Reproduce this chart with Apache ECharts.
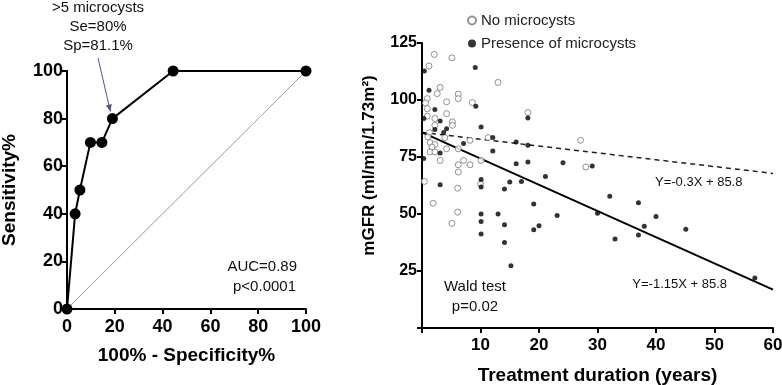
<!DOCTYPE html>
<html>
<head>
<meta charset="utf-8">
<script src="https://cdn.jsdelivr.net/npm/echarts@6/dist/echarts.min.js"></script>
<style>
  html, body { margin: 0; padding: 0; background: #fff; }
  #main { width: 782px; height: 385px; }
</style>
</head>
<body>
<div id="main"></div>
<script>
// ROC curve (100% - specificity, sensitivity)
var rocPoints = [[0, 0], [3.4, 40], [5.4, 50], [9.8, 70], [14.6, 70], [19, 80], [44.4, 100], [100, 100]];
var refDiagonal = [[0, 0], [100, 100]];

// mGFR vs treatment duration
var noMicrocysts = [
  [2.1, 120.0], [5.1, 118.5], [1.2, 114.9], [13.0, 107.7], [3.1, 105.5], [2.6, 102.8],
  [6.2, 102.6], [6.2, 100.6], [0.9, 100.6], [0.6, 98.7], [4.2, 99.2], [8.6, 98.9],
  [0.9, 96.2], [4.2, 94.0], [0.9, 92.9], [2.2, 91.9], [5.2, 90.4], [5.2, 88.9],
  [2.2, 88.9], [18.1, 94.5], [1.3, 85.7], [1.0, 83.8], [3.9, 83.5], [8.2, 82.3],
  [11.3, 83.5], [1.4, 81.3], [2.2, 80.5], [1.7, 79.4], [4.2, 78.6], [6.2, 78.6],
  [1.4, 77.2], [2.2, 77.2], [10.1, 73.5], [3.1, 73.5], [6.2, 71.6], [7.1, 73.5],
  [8.2, 71.6], [6.2, 68.4], [0.4, 64.3], [10.0, 63.2], [6.1, 61.3], [1.9, 54.7],
  [6.1, 50.8], [5.1, 45.9], [27.1, 82.3], [28.0, 70.6]
];
var withMicrocysts = [
  [0.4, 112.7], [9.1, 114.3], [1.2, 104.3], [2.2, 95.8], [9.2, 97.3], [0.3, 91.9],
  [3.1, 90.8], [2.2, 87.1], [4.2, 87.4], [3.7, 85.7], [10.1, 88.2], [12.1, 83.5],
  [7.1, 80.9], [3.1, 76.7], [12.1, 77.6], [0.3, 74.3], [16.1, 81.6], [18.1, 80.1],
  [18.1, 92.1], [16.1, 72.0], [18.1, 72.8], [10.1, 65.1], [3.1, 62.8], [10.1, 61.8],
  [14.1, 61.0], [15.0, 64.0], [17.0, 64.3], [21.1, 66.5], [24.1, 72.5], [29.1, 71.0],
  [32.1, 57.8], [10.1, 50.0], [13.0, 50.0], [10.1, 46.7], [14.1, 45.3], [10.1, 41.2],
  [14.1, 37.5], [15.2, 27.3], [19.1, 54.4], [19.1, 43.1], [20.0, 44.9], [23.1, 49.3],
  [30.0, 50.3], [37.0, 54.9], [40.0, 48.9], [38.0, 44.6], [37.0, 40.8], [33.0, 39.0],
  [45.1, 43.3], [56.9, 21.9]
];
// fitted lines, Y=-1.15X+85.8 and Y=-0.3X+85.8
var fitAll = [[0, 85.8], [60, 16.8]];
var fitNone = [[0, 85.8], [60, 67.8]];

var FONT = 'Liberation Sans, Arial, sans-serif';
var chart = echarts.init(document.getElementById('main'));

function axisBase() {
  return {
    axisLine: { show: true, onZero: false, lineStyle: { color: '#000', width: 2 } },
    axisTick: { show: true, inside: false, length: 5, lineStyle: { color: '#000', width: 2 } },
    splitLine: { show: false },
    nameLocation: 'middle',
    nameTextStyle: { fontFamily: FONT, fontWeight: 'bold', color: '#000' }
  };
}

var x0 = axisBase(), y0 = axisBase(), x1 = axisBase(), y1 = axisBase();
Object.assign(x0, { type: 'value', gridIndex: 0, min: 0, max: 100, interval: 20,
  name: '100% - Specificity%', nameGap: 37,
  axisLabel: { fontFamily: FONT, fontWeight: 'bold', fontSize: 18, color: '#000', margin: 9 } });
x0.nameTextStyle.fontSize = 19;
Object.assign(y0, { type: 'value', gridIndex: 0, min: 0, max: 100, interval: 20,
  name: 'Sensitivity%', nameGap: 48,
  axisLabel: { fontFamily: FONT, fontWeight: 'bold', fontSize: 18, color: '#000', margin: 4 } });
y0.nameTextStyle.fontSize = 19;
Object.assign(x1, { type: 'value', gridIndex: 1, min: 0, max: 60, interval: 10,
  name: 'Treatment duration (years)', nameGap: 38,
  axisLabel: { fontFamily: FONT, fontWeight: 'bold', fontSize: 17, color: '#000', margin: 9,
    formatter: function (v) { return v === 0 ? '' : v; } } });
x1.nameTextStyle.fontSize = 19;
Object.assign(y1, { type: 'value', gridIndex: 1, min: 0, max: 125, interval: 25,
  name: 'mGFR (ml/min/1.73m²)', nameGap: 44,
  axisLabel: { fontFamily: FONT, fontWeight: 'bold', fontSize: 16, color: '#000', margin: 5,
    formatter: function (v) { return v === 0 ? '' : v; } } });
y1.nameTextStyle.fontSize = 17;
y1.nameTextStyle.padding = [0, 0, 0, 40];

chart.setOption({
  animation: false,
  backgroundColor: '#fff',
  textStyle: { fontFamily: FONT },
  grid: [
    { left: 67, right: 476, top: 71, bottom: 76, outerBoundsMode: 'none' },
    { left: 422, right: 9, top: 43, bottom: 57, outerBoundsMode: 'none' }
  ],
  xAxis: [x0, x1],
  yAxis: [y0, y1],
  legend: {
    orient: 'vertical', left: 462, top: 8, itemGap: 8,
    itemWidth: 8, itemHeight: 8,
    textStyle: { fontFamily: FONT, fontSize: 15, color: '#222' },
    data: [
      { name: 'No microcysts', icon: 'circle' },
      { name: 'Presence of microcysts', icon: 'circle' }
    ]
  },
  series: [
    {
      type: 'line', xAxisIndex: 0, yAxisIndex: 0, data: refDiagonal,
      symbol: 'none', lineStyle: { color: '#999', width: 1 }, z: 1
    },
    {
      type: 'line', xAxisIndex: 0, yAxisIndex: 0, data: rocPoints,
      symbol: 'circle', symbolSize: 11, clip: false,
      itemStyle: { color: '#000' }, lineStyle: { color: '#000', width: 2 }, z: 3
    },
    {
      type: 'line', xAxisIndex: 1, yAxisIndex: 1, data: fitNone,
      symbol: 'none', lineStyle: { color: '#222', width: 1.5, type: [5, 4] }, z: 2
    },
    {
      type: 'line', xAxisIndex: 1, yAxisIndex: 1, data: fitAll,
      symbol: 'none', lineStyle: { color: '#000', width: 2 }, z: 2
    },
    {
      name: 'No microcysts', type: 'scatter', xAxisIndex: 1, yAxisIndex: 1,
      data: noMicrocysts, symbol: 'circle', symbolSize: 6,
      itemStyle: { color: '#fff', borderColor: '#777', borderWidth: 1 }, z: 3
    },
    {
      name: 'Presence of microcysts', type: 'scatter', xAxisIndex: 1, yAxisIndex: 1,
      data: withMicrocysts, symbol: 'circle', symbolSize: 5,
      itemStyle: { color: '#000' }, z: 4
    }
  ]
});

// annotations
var cut = chart.convertToPixel({ gridIndex: 0 }, rocPoints[5]);
var tip = [cut[0] - 2, cut[1] - 7];
var tail = [98, 58];
var ang = Math.atan2(tip[1] - tail[1], tip[0] - tail[0]);
var hl = 7, hw = 3;
var head = [
  tip,
  [tip[0] - hl * Math.cos(ang) + hw * Math.sin(ang), tip[1] - hl * Math.sin(ang) - hw * Math.cos(ang)],
  [tip[0] - hl * Math.cos(ang) - hw * Math.sin(ang), tip[1] - hl * Math.sin(ang) + hw * Math.cos(ang)]
];

function txt(x, y, s, size, align) {
  return { type: 'text', x: x, y: y, z: 10,
    style: { text: s, fontFamily: FONT, fontSize: size, fill: '#111', align: align || 'center', verticalAlign: 'middle' } };
}

chart.setOption({
  graphic: [
    txt(98, 8, '>5 microcysts', 15),
    txt(98, 27, 'Se=80%', 15),
    txt(98, 46, 'Sp=81.1%', 15),
    { type: 'line', z: 10, shape: { x1: tail[0], y1: tail[1], x2: tip[0], y2: tip[1] },
      style: { stroke: '#5b4c9c', lineWidth: 1 } },
    { type: 'polygon', z: 10, shape: { points: head }, style: { fill: '#5b4c9c' } },
    txt(297, 267, 'AUC=0.89', 15, 'right'),
    txt(296, 287, 'p<0.0001', 15, 'right'),
    txt(475, 287, 'Wald test', 15),
    txt(475, 307, 'p=0.02', 15),
    txt(655, 182, 'Y=-0.3X + 85.8', 13, 'left'),
    txt(727, 284, 'Y=-1.15X + 85.8', 13, 'right')
  ]
});
</script>
</body>
</html>
